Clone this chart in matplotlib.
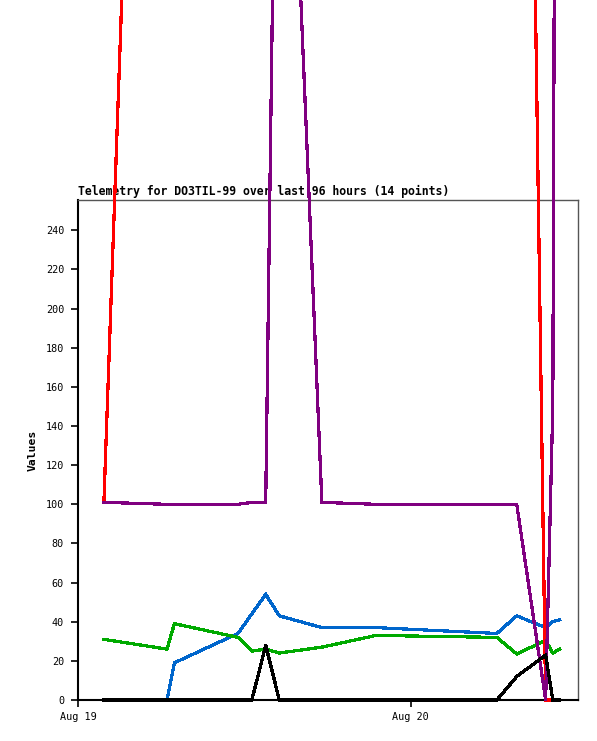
import matplotlib
matplotlib.use("Agg")
import matplotlib.pyplot as plt
import matplotlib.dates as mdates
import pandas as pd

# Timestamps of the 14 telemetry points
times = pd.to_datetime([
    "2023-08-19 01:52", "2023-08-19 06:25", "2023-08-19 06:57", "2023-08-19 11:32",
    "2023-08-19 12:32", "2023-08-19 13:32", "2023-08-19 14:31", "2023-08-19 17:35",
    "2023-08-19 21:29", "2023-08-20 06:12", "2023-08-20 07:38", "2023-08-20 09:43",
    "2023-08-20 10:14", "2023-08-20 10:44",
])

blue_vals   = [0, 0, 19, 34, 44, 54, 43, 37, 37, 34, 43, 37, 40, 41]
green_vals  = [31, 26, 39, 32, 25, 26, 24, 27, 33, 32, 23.5, 30.5, 24, 26]
red_vals    = [101, 1010, 1010, 1010, 1010, 1010, 1010, 1010, 1010, 1010, 1010, 0, 0, 0]
purple_vals = [101, 100, 100, 100, 101, 101, 620, 101, 100, 100, 100, 0, 150, 1200]
black_vals  = [0, 0, 0, 0, 0, 28, 0, 0, 0, 0, 12, 23, 0, 0]

title_text = "Telemetry for DO3TIL-99 over last 96 hours (14 points)"
y_label = "Values"
x_start = pd.Timestamp("2023-08-19 00:00")
x_end = pd.Timestamp("2023-08-20 12:03")
y_max = 255.5
y_ticks = list(range(0, 241, 20))

mono = "DejaVu Sans Mono"

fig = plt.figure(figsize=(5.97, 7.41), dpi=100)
ax = fig.add_axes([78 / 597, 1 - 700 / 741, 500 / 597, 500 / 741])

series = [
    (blue_vals, "#0066cc"),
    (green_vals, "#00aa00"),
    (red_vals, "#ff0000"),
    (purple_vals, "#800080"),
    (black_vals, "#000000"),
]
for vals, col in series:
    ax.plot(times, vals, color=col, lw=1.6, clip_on=False, antialiased=False,
            zorder=3, solid_joinstyle="miter")

ax.set_xlim(x_start, x_end)
ax.set_ylim(0, y_max)
ax.set_yticks(y_ticks)
ax.xaxis.set_major_locator(mdates.DayLocator())
ax.xaxis.set_major_formatter(mdates.DateFormatter("%b %d"))

for lab in ax.get_xticklabels() + ax.get_yticklabels():
    lab.set_fontfamily(mono)
    lab.set_fontsize(7.3)

ax.tick_params(axis="both", direction="out", length=5, width=1.2, pad=5, color="black")
ax.tick_params(axis="x", pad=4)

for side in ["left", "bottom"]:
    ax.spines[side].set_color("black")
    ax.spines[side].set_linewidth(1.5)
for side in ["top", "right"]:
    ax.spines[side].set_color("#555555")
    ax.spines[side].set_linewidth(1.0)
for sp in ax.spines.values():
    sp.set_zorder(2.5)

ax.set_ylabel(y_label, fontfamily=mono, fontweight="bold", fontsize=8.2)
ax.yaxis.set_label_coords(-0.08, 0.5)

ax.text(0.0, 1.004, title_text, transform=ax.transAxes, ha="left", va="bottom",
        fontfamily=mono, fontweight="bold", fontsize=8.3, zorder=1, clip_on=False)

fig.savefig("out.png", dpi=100)
